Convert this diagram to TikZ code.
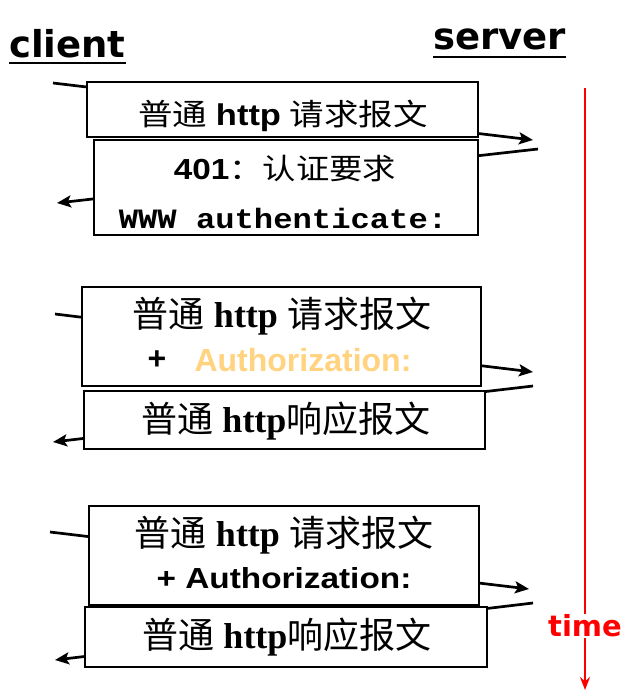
\documentclass[tikz,border=0pt]{standalone}
\usepackage{fontspec}
\setmainfont{Liberation Serif}
\newfontfamily\cjk{Noto Sans CJK SC}
\newfontfamily\arialf{Liberation Sans}
\newfontfamily\courf{Liberation Mono}
\newfontfamily\handf{DejaVu Sans}
\usetikzlibrary{arrows.meta}
\definecolor{authorange}{HTML}{FFD37F}
\newcommand{\hstretch}[1]{\scalebox{1.15}[1]{#1}}
\tikzset{
  msgbox/.style={draw=black, line width=2.5pt, fill=white, inner sep=0pt},
  msgline/.style={line width=2.7pt, -{Stealth[length=14pt,width=12pt,inset=3pt]}},
  boxtext/.style={inner sep=0pt, anchor=center},
  title/.style={inner sep=0pt, anchor=base west, font=\handf\bfseries\fontsize{37}{40}\selectfont},
  uline/.style={line width=2.5pt}
}
\begin{document}
\begin{tikzpicture}[x=1pt,y=-1pt]
\useasboundingbox (0,0) rectangle (644,693);

% titles
\node[title] (client) at (9,58) {client};
\draw[uline] ([yshift=-5pt]client.base west) -- ([yshift=-5pt]client.base east);
\node[title] (server) at (433,50) {server};
\draw[uline] ([yshift=-7pt]server.base west) -- ([yshift=-7pt]server.base east);

% time axis
\coordinate (tTop) at (585,88);
\coordinate (tBot) at (585,690);
\draw[red, line width=2.4pt, -{Stealth[length=13pt,width=10pt]}] (tTop) -- (tBot);
\node[fill=white, text=red, inner sep=1pt, font=\handf\bfseries\fontsize{29}{32}\selectfont] (time) at (585,626) {time};

% connector end points
\coordinate (a1s) at (53,83);   \coordinate (a1e) at (533,140);
\coordinate (a2s) at (538,149); \coordinate (a2e) at (57,203);
\coordinate (a3s) at (55,314);  \coordinate (a3e) at (533,372);
\coordinate (a4s) at (533,386); \coordinate (a4e) at (53,442);
\coordinate (a5s) at (50,532);  \coordinate (a5e) at (529,589);
\coordinate (a6s) at (533,603); \coordinate (a6e) at (55,660);
\draw[msgline] (a1s) -- (a1e);
\draw[msgline] (a2s) -- (a2e);
\draw[msgline] (a3s) -- (a3e);
\draw[msgline] (a4s) -- (a4e);
\draw[msgline] (a5s) -- (a5e);
\draw[msgline] (a6s) -- (a6e);

% boxes
\node[msgbox, minimum width=391pt, minimum height=55pt] (b1) at (282.5,109.5) {};
\node[msgbox, minimum width=384pt, minimum height=95pt] (b2) at (286,187.5) {};
\node[msgbox, minimum width=399pt, minimum height=99pt] (b3) at (281.5,336.5) {};
\node[msgbox, minimum width=401pt, minimum height=58pt] (b4) at (284.5,420) {};
\node[msgbox, minimum width=390pt, minimum height=99pt] (b5) at (284,555.5) {};
\node[msgbox, minimum width=402pt, minimum height=60pt] (b6) at (286,637) {};

% box texts
\node[boxtext, font=\fontsize{30}{34}\selectfont] (t1) at (283,116)
  {\hstretch{{\cjk 普通} {\arialf\bfseries http} {\cjk 请求报文}}};
\node[boxtext, font=\fontsize{29}{34}\selectfont] (t2a) at (285,169)
  {\hstretch{{\arialf\bfseries 401}{\cjk ：认证要求}}};
\node[boxtext, font=\fontsize{28}{32}\selectfont] (t2b) at (283,218)
  {\hstretch{\courf\bfseries WWW authenticate:}};

\node[boxtext, font=\fontsize{36}{40}\selectfont] (t3a) at (282,316)
  {{\cjk 普通} \textbf{http} {\cjk 请求报文}};
\node[boxtext, font=\arialf\bfseries\fontsize{32}{36}\selectfont] (t3p) at (157,360) {+};
\node[boxtext, text=authorange, font=\arialf\bfseries\fontsize{32}{36}\selectfont] (t3b) at (303,360) {Authorization:};

\node[boxtext, font=\fontsize{36}{40}\selectfont] (t4) at (286,421)
  {{\cjk 普通} \textbf{http}{\cjk 响应报文}};

\node[boxtext, font=\fontsize{36}{40}\selectfont] (t5a) at (284,535)
  {{\cjk 普通} \textbf{http} {\cjk 请求报文}};
\node[boxtext, font=\arialf\bfseries\fontsize{29}{32}\selectfont] (t5b) at (284,578)
  {\hstretch{+ Authorization:}};

\node[boxtext, font=\fontsize{36}{40}\selectfont] (t6) at (287,637)
  {{\cjk 普通} \textbf{http}{\cjk 响应报文}};
\end{tikzpicture}
\end{document}
